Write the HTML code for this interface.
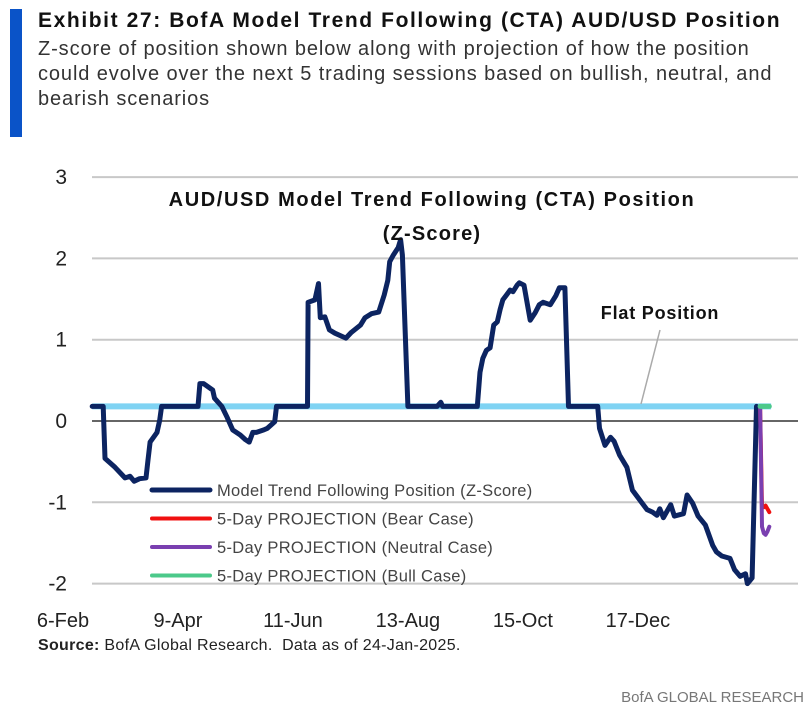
<!DOCTYPE html>
<html><head><meta charset="utf-8"><style>
body{margin:0;background:#fff;font-family:"Liberation Sans",sans-serif;}
#wrap{position:relative;width:812px;height:719px;overflow:hidden;}
</style></head><body>
<div id="wrap">
<div style="position:absolute;left:10px;top:9px;width:12px;height:128px;background:#0a53c8"></div>
<div style="position:absolute;left:38px;top:9px;font-size:21px;font-weight:bold;color:#111;letter-spacing:1.6px;white-space:nowrap">Exhibit 27: BofA Model Trend Following (CTA) AUD/USD Position</div>
<div style="position:absolute;left:38px;top:37px;width:770px;font-size:20px;line-height:25px;color:#333;letter-spacing:0.9px;white-space:nowrap">Z-score of position shown below along with projection of how the position<br>could evolve over the next 5 trading sessions based on bullish, neutral, and<br>bearish scenarios</div>
<svg id="chart" width="812" height="719" style="position:absolute;left:0;top:0"></svg>
<div style="position:absolute;left:38px;top:637px;font-size:16px;letter-spacing:0.3px;color:#222"><b>Source:</b> BofA Global Research.&nbsp; Data as of 24-Jan-2025.</div>
<div style="position:absolute;right:8px;top:689px;font-size:15px;color:#777">BofA GLOBAL RESEARCH</div>
</div>
<script>
const yTicks=[3,2,1,0,-1,-2];
const xLabels=["6-Feb","9-Apr","11-Jun","13-Aug","15-Oct","17-Dec"];
const xLabelDays=[0,63,126,189,252,315];
const flatValue=0.18;
const days=[16,22,23,28.5,34,36.7,39,42,45.5,46.6,47.7,51.5,53,54,74,75,77,82,83,87,90,93,97,100,102,104,106,110,112,116,117,134,134.3,138,140,141,143.5,146,149,155,158,163,165.5,169,173,176,178,179,181,183.6,185,186,189,205,207,208,227,228.5,230,232,234,236,238,239.5,241,243,245,246.6,248.8,250,252.6,256,258.7,261,263,267,270,272,275,277,293,294,297,300,302,305,309,312,316,320,323,325.5,327,329,333,335,340,342,345,348,352,356,358,361,365.5,368,371,374,375,377.6,380];
const zScore=[0.18,0.18,-0.46,-0.57,-0.70,-0.68,-0.74,-0.71,-0.70,-0.48,-0.26,-0.14,0.01,0.18,0.18,0.46,0.46,0.38,0.28,0.18,0.04,-0.11,-0.17,-0.23,-0.26,-0.14,-0.14,-0.11,-0.09,-0.01,0.18,0.18,1.46,1.49,1.69,1.27,1.28,1.12,1.08,1.02,1.09,1.18,1.27,1.32,1.34,1.55,1.73,1.96,2.04,2.13,2.23,2.04,0.18,0.18,0.23,0.18,0.18,0.60,0.77,0.87,0.90,1.18,1.22,1.37,1.49,1.55,1.61,1.59,1.67,1.70,1.67,1.24,1.33,1.43,1.46,1.43,1.54,1.64,1.64,0.18,0.18,-0.09,-0.30,-0.20,-0.25,-0.42,-0.57,-0.85,-0.97,-1.09,-1.12,-1.16,-1.08,-1.19,-1.03,-1.17,-1.14,-0.91,-1.01,-1.17,-1.28,-1.53,-1.61,-1.66,-1.69,-1.83,-1.91,-1.88,-2.0,-1.93,0.18];
const projDays=[382,383,384,385,386,387];
const bearCase=[0.18,-1.05,-1.06,-1.04,-1.08,-1.12];
const neutralCase=[0.18,-1.30,-1.38,-1.40,-1.36,-1.30];
const bullCase=[0.18,0.18,0.18,0.18,0.18,0.18];

const NS="http://www.w3.org/2000/svg";
const svg=document.getElementById('chart');
const X0=92,X1=798;
const xS=d=>63+d*1.825;
const yS=v=>421-v*81.3;
function mk(t,a,p){const e=document.createElementNS(NS,t);for(const k in a)e.setAttribute(k,a[k]);(p||svg).appendChild(e);return e;}
yTicks.forEach(v=>{
  const l=mk('line',{x1:X0,x2:X1,y1:yS(v),y2:yS(v),stroke:v===0?'#333':'#c8c8c8','stroke-width':v===0?1.5:2});
  
  
  const t=mk('text',{x:67,y:yS(v)+7,'text-anchor':'end','font-size':21,fill:'#222'});
  t.textContent=String(v);
  
  
});
xLabels.forEach((s,i)=>{
  const t=mk('text',{x:xS(xLabelDays[i]),y:627,'text-anchor':'middle','font-size':20,fill:'#222'});
  t.textContent=s;
  
  
});
const flat=mk('line',{x1:xS(days[0]),x2:xS(projDays[5]+1),y1:yS(flatValue),y2:yS(flatValue),stroke:'#7fd3f3','stroke-width':6});


const lead=mk('line',{x1:660,y1:330,x2:641,y2:404,stroke:'#aaa','stroke-width':1.5});


function path(xs,ys,col,w,name){
  const d=xs.map((x,i)=>(i?'L':'M')+xS(x).toFixed(1)+','+yS(ys[i]).toFixed(1)).join('');
  const p=mk('path',{d:d,fill:'none',stroke:col,'stroke-width':w,'stroke-linejoin':'round','stroke-linecap':'round'});
  
  
}
path(days,zScore,'#0c2461',5,'model-position-line');
path(projDays,bearCase,'#f01010',4,'bear-case-line');
path(projDays,neutralCase,'#7a3fb0',4,'neutral-case-line');
path(projDays,bullCase,'#4cc98a',5,'bull-case-line');
const t1=mk('text',{x:432,y:206,'text-anchor':'middle','font-size':20,'font-weight':'bold',fill:'#111','letter-spacing':'1.6'});
t1.textContent='AUD/USD Model Trend Following (CTA) Position';


const t2=mk('text',{x:432,y:240,'text-anchor':'middle','font-size':20,'font-weight':'bold',fill:'#111','letter-spacing':'1.2'});
t2.textContent='(Z-Score)';


const fl=mk('text',{x:660,y:319,'text-anchor':'middle','font-size':18,'font-weight':'bold',fill:'#111','letter-spacing':'0.8'});
fl.textContent='Flat Position';


const leg=[['Model Trend Following Position (Z-Score)','#0c2461',5],['5-Day PROJECTION (Bear Case)','#f01010',4],['5-Day PROJECTION (Neutral Case)','#7a3fb0',4],['5-Day PROJECTION (Bull Case)','#4cc98a',4]];
leg.forEach((e,i)=>{
  const y=490+i*28.5;
  const g=mk('g',{});
  
  
  mk('line',{x1:152,x2:210,y1:y,y2:y,stroke:e[1],'stroke-width':e[2],'stroke-linecap':'round'},g);
  const t=mk('text',{x:217,y:y+6,'font-size':16.5,fill:'#444','letter-spacing':'0.3'},g);
  t.textContent=e[0];
});
</script>
</body></html>
